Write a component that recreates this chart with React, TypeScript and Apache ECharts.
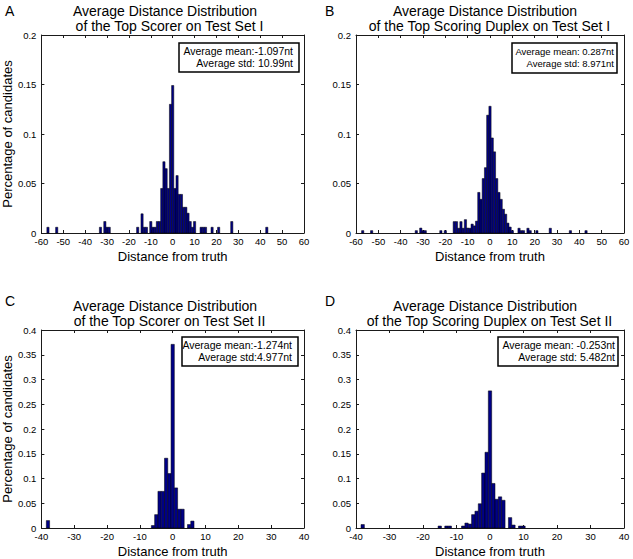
import React, { useEffect, useRef } from "react";
import * as echarts from "echarts";

// ---------- data ----------
const PANEL_LETTERS = ["A", "B", "C", "D"];
const TITLE_LINE1 = "Average Distance Distribution";
const TITLE_LINE2 = [
  "of the Top Scorer on Test Set I",
  "of the Top Scoring Duplex on Test Set I",
  "of the Top Scorer on Test Set II",
  "of the Top Scoring Duplex on Test Set II",
];
const STAT_MEAN = [
  "Average mean:-1.097nt",
  "Average mean: 0.287nt",
  "Average mean:-1.274nt",
  "Average mean: -0.253nt",
];
const STAT_STD = [
  "Average std: 10.99nt",
  "Average std: 8.971nt",
  "Average std:4.977nt",
  "Average std: 5.482nt",
];
const X_NAME = "Distance from truth";
const Y_NAME = "Percentage of candidates";
const X_MIN = [-60, -60, -40, -40];
const X_MAX = [60, 60, 40, 40];
const X_STEP = [10, 10, 10, 10];
const Y_MAX = [0.2, 0.2, 0.4, 0.4];
const Y_STEP = [0.05, 0.05, 0.05, 0.05];

// Panel A: Top Scorer, Test Set I
const A_BINS = [-57, -53, -33, -31, -30, -29, -16, -14, -13, -12, -10, -9, -8, -7, -6, -5, -4, -3, -2, -1, 0, 1, 2, 3, 4, 5, 6, 7, 8, 9, 10, 13, 14, 15, 18, 21, 27, 43];
const A_FRAC = [0.0058, 0.0058, 0.0058, 0.0116, 0.0058, 0.0058, 0.0058, 0.0194, 0.0058, 0.0058, 0.0116, 0.0058, 0.0058, 0.0116, 0.0116, 0.045, 0.072, 0.065, 0.045, 0.13, 0.149, 0.045, 0.058, 0.039, 0.039, 0.026, 0.026, 0.02, 0.0116, 0.0058, 0.0116, 0.0058, 0.0058, 0.0058, 0.0058, 0.0058, 0.0116, 0.0058];

// Panel B: Top Scoring Duplex, Test Set I
const B_BINS = [-57, -53, -33, -31, -30, -29, -22, -20, -16, -15, -14, -13, -12, -11, -10, -9, -8, -7, -6, -5, -4, -3, -2, -1, 0, 1, 2, 3, 4, 5, 6, 7, 8, 9, 10, 13, 14, 15, 17, 18, 21, 27, 36, 43];
const B_FRAC = [0.0024, 0.0024, 0.0024, 0.005, 0.0024, 0.0024, 0.0024, 0.0024, 0.0115, 0.0115, 0.0048, 0.0115, 0.0048, 0.0135, 0.005, 0.0048, 0.009, 0.0072, 0.012, 0.041, 0.034, 0.055, 0.066, 0.119, 0.128, 0.096, 0.082, 0.055, 0.041, 0.034, 0.024, 0.019, 0.01, 0.006, 0.0024, 0.0048, 0.0024, 0.0024, 0.0048, 0.0024, 0.0024, 0.0048, 0.0024, 0.0024];

// Panel C: Top Scorer, Test Set II
const C_BINS = [-38, -6, -5, -4, -3, -2, -1, 0, 1, 2, 3, 5, 6];
const C_FRAC = [0.015, 0.005, 0.027, 0.074, 0.074, 0.141, 0.11, 0.371, 0.081, 0.038, 0.038, 0.007, 0.014];

// Panel D: Top Scoring Duplex, Test Set II
const D_BINS = [-38, -15, -13, -12, -8, -7, -6, -5, -4, -3, -2, -1, 0, 1, 2, 3, 4, 6, 7, 9, 10];
const D_FRAC = [0.007, 0.004, 0.004, 0.004, 0.004, 0.01, 0.008, 0.027, 0.034, 0.049, 0.111, 0.153, 0.277, 0.09, 0.058, 0.063, 0.056, 0.021, 0.006, 0.004, 0.004];

const BINS = [A_BINS, B_BINS, C_BINS, D_BINS];
const FRACS = [A_FRAC, B_FRAC, C_FRAC, D_FRAC];

// ---------- layout / style ----------
const FONT = "'Liberation Sans', Arial, Helvetica, sans-serif";
const AXIS_COLOR = "#1a1a1a";
const BAR_FILL = "#000086";
const PLOT_W = 268;
const PLOT_H = 198;
const PLOTS = [
  { left: 36, top: 35 },
  { left: 356, top: 35 },
  { left: 36, top: 330 },
  { left: 356, top: 330 },
];
const LETTER_POS = [
  { x: 5, y: 11 },
  { x: 325, y: 11 },
  { x: 5, y: 301 },
  { x: 325, y: 301 },
];
const TITLE_Y = [10.5, 10.5, 305.5, 305.5];
const STAT_BOX = [
  { x: 179, y: 43, w: 120, h: 29, right: 293, fs: 10.5 },
  { x: 512, y: 43, w: 105, h: 30, right: 614, fs: 9.5 },
  { x: 182, y: 337, w: 116, h: 29, right: 292, fs: 10.5 },
  { x: 498, y: 337, w: 120, h: 29, right: 615, fs: 10.5 },
];

function renderBar(params: any, api: any) {
  const x = api.value(0);
  const y = api.value(1);
  const p1 = api.coord([x - 0.5, y]);
  const p2 = api.coord([x + 0.5, 0]);
  return {
    type: "rect",
    shape: { x: p1[0], y: p1[1], width: p2[0] - p1[0], height: p2[1] - p1[1] },
    style: { fill: BAR_FILL, stroke: "#000000", lineWidth: 0.5 },
  };
}

function buildOption() {
  const grid: any[] = [];
  const xAxis: any[] = [];
  const yAxis: any[] = [];
  const series: any[] = [];
  const graphic: any[] = [];

  const lineStyle = { color: AXIS_COLOR, width: 1 };
  const labelStyle = { color: "#000", fontSize: 9.5, fontFamily: FONT };
  const nameStyle = { color: "#000", fontSize: 13, fontFamily: FONT };

  for (let i = 0; i < 4; i++) {
    const p = PLOTS[i];
    grid.push({ left: p.left, top: p.top, width: PLOT_W, height: PLOT_H, containLabel: false });

    const xBase = {
      gridIndex: i,
      type: "value",
      min: X_MIN[i],
      max: X_MAX[i],
      interval: X_STEP[i],
      splitLine: { show: false },
      axisLine: { show: true, onZero: false, lineStyle },
      axisTick: { show: true, inside: true, length: 3, lineStyle },
    };
    xAxis.push({
      ...xBase,
      position: "bottom",
      axisLabel: { ...labelStyle, margin: 3, showMinLabel: true, showMaxLabel: true },
      name: X_NAME,
      nameLocation: "middle",
      nameGap: 17,
      nameTextStyle: nameStyle,
    });
    xAxis.push({ ...xBase, position: "top", axisLabel: { show: false } });

    const yBase = {
      gridIndex: i,
      type: "value",
      min: 0,
      max: Y_MAX[i],
      interval: Y_STEP[i],
      splitLine: { show: false },
      axisLine: { show: true, onZero: false, lineStyle },
      axisTick: { show: true, inside: true, length: 3, lineStyle },
    };
    yAxis.push({
      ...yBase,
      position: "left",
      axisLabel: { ...labelStyle, margin: 5, showMinLabel: true, showMaxLabel: true },
      name: i % 2 === 0 ? Y_NAME : "",
      nameLocation: "middle",
      nameGap: 20,
      nameTextStyle: nameStyle,
    });
    yAxis.push({ ...yBase, position: "right", axisLabel: { show: false } });

    series.push({
      type: "custom",
      xAxisIndex: 2 * i,
      yAxisIndex: 2 * i,
      silent: true,
      renderItem: renderBar,
      encode: { x: 0, y: 1 },
      data: BINS[i].map((b, j) => [b, FRACS[i][j]]),
    });

    const cx = p.left + PLOT_W / 2;
    graphic.push({
      type: "text",
      x: cx - 5,
      y: TITLE_Y[i],
      style: { text: TITLE_LINE1, fill: "#000", font: `14px ${FONT}`, textAlign: "center", textVerticalAlign: "middle" },
    });
    graphic.push({
      type: "text",
      x: cx - 0.5,
      y: TITLE_Y[i] + 15,
      style: { text: TITLE_LINE2[i], fill: "#000", font: `14px ${FONT}`, textAlign: "center", textVerticalAlign: "middle" },
    });
    graphic.push({
      type: "text",
      x: LETTER_POS[i].x,
      y: LETTER_POS[i].y,
      style: { text: PANEL_LETTERS[i], fill: "#000", font: `14px ${FONT}`, textAlign: "left", textVerticalAlign: "middle" },
    });
    const b = STAT_BOX[i];
    graphic.push({
      type: "rect",
      shape: { x: b.x, y: b.y, width: b.w, height: b.h },
      style: { fill: "#fff", stroke: "#000", lineWidth: 1.5 },
      z: 10,
    });
    graphic.push({
      type: "text",
      x: b.right,
      y: b.y + 8,
      z: 11,
      style: { text: STAT_MEAN[i], fill: "#000", font: `${b.fs}px ${FONT}`, textAlign: "right", textVerticalAlign: "middle" },
    });
    graphic.push({
      type: "text",
      x: b.right,
      y: b.y + 20,
      z: 11,
      style: { text: STAT_STD[i], fill: "#000", font: `${b.fs}px ${FONT}`, textAlign: "right", textVerticalAlign: "middle" },
    });
  }

  return {
    animation: false,
    backgroundColor: "#ffffff",
    textStyle: { fontFamily: FONT },
    grid,
    xAxis,
    yAxis,
    series,
    graphic,
  };
}

export default function App() {
  const ref = useRef<HTMLDivElement>(null);
  useEffect(() => {
    if (!ref.current) return;
    const chart = echarts.init(ref.current, null, { renderer: "svg" });
    chart.setOption(buildOption() as any);
    return () => chart.dispose();
  }, []);
  return (
    <div
      ref={ref}
      style={{ position: "fixed", left: 0, top: 0, width: 633, height: 559, background: "#fff" }}
    />
  );
}
